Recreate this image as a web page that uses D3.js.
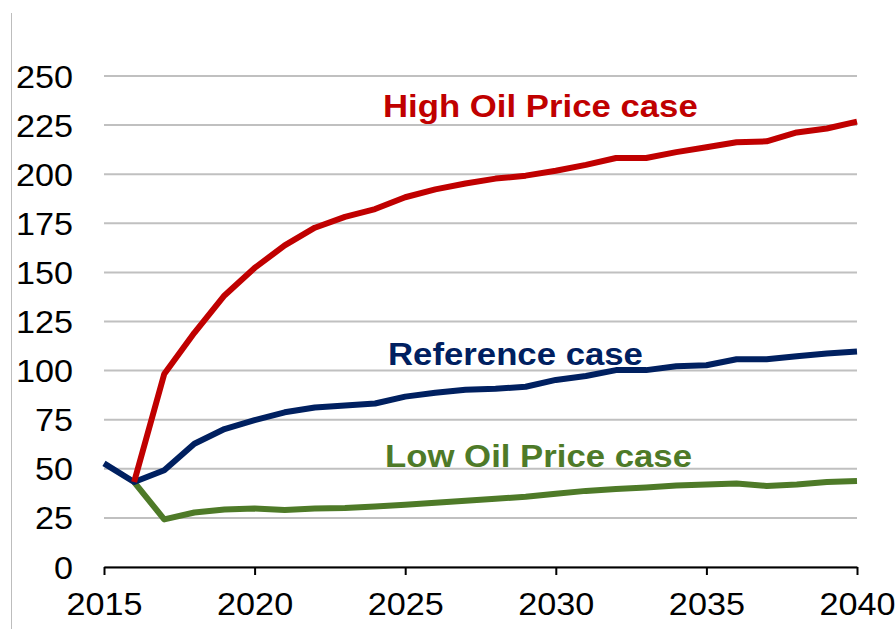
<!DOCTYPE html>
<html>
<head>
<meta charset="utf-8">
<script src="https://cdn.jsdelivr.net/npm/d3@7"></script>
<style>
  html, body { margin: 0; padding: 0; background: #fff; }
  svg { display: block; }
</style>
</head>
<body>
<svg id="chart" width="896" height="629"></svg>
<script>
// Oil price projections, 2015-2040
const years = d3.range(2015, 2041);

const highOil = [null, 43, 98, 119, 138, 152, 163.5, 172.5, 178, 182, 188, 192, 195, 197.5, 199, 201.5, 204.5, 208, 208, 211, 213.5, 216, 216.5, 221, 223, 226.5];
const reference = [52.5, 43, 49, 62.5, 70, 74.5, 78.5, 81, 82, 83, 86.5, 88.5, 90, 90.5, 91.5, 95, 97, 100, 100, 102, 102.5, 105.5, 105.5, 107, 108.5, 109.5];
const lowOil = [null, 43, 24, 27.5, 29, 29.5, 28.8, 29.5, 29.8, 30.5, 31.5, 32.5, 33.5, 34.5, 35.5, 37, 38.5, 39.5, 40.2, 41.2, 41.8, 42.3, 41, 41.8, 43, 43.5];

const yTicks = [0, 25, 50, 75, 100, 125, 150, 175, 200, 225, 250];
const xTicks = [2015, 2020, 2025, 2030, 2035, 2040];

const seriesLabels = ["High Oil Price case", "Reference case", "Low Oil Price case"];

const svg = d3.select("#chart");
const font = "'Liberation Sans', Arial, sans-serif";
const stretch = 1.086;

const x0 = 104, x1 = 857, yTop = 75.5, yBottom = 566.5;
const x = d3.scaleLinear().domain([2015, 2040]).range([x0, x1]);
const y = d3.scaleLinear().domain([0, 250]).range([yBottom, yTop]);

// thin frame line on the left edge
svg.append("line")
  .attr("x1", 11.5).attr("x2", 11.5)
  .attr("y1", 13).attr("y2", 629)
  .attr("stroke", "#BDBDBD").attr("stroke-width", 1);

// y axis: gridlines + labels
svg.append("g")
  .attr("transform", `translate(${x0},0)`)
  .call(d3.axisLeft(y).tickValues(yTicks).tickSize(-(x1 - x0)).tickPadding(31).tickFormat(d3.format("d")))
  .call(g => {
    g.attr("font-size", 31.5).attr("font-family", font);
    g.select(".domain").remove();
    g.selectAll(".tick line").attr("stroke", "#C0C0C0").attr("stroke-width", 2);
    g.selectAll(".tick text")
      .attr("x", null).attr("dy", null)
      .attr("fill", "#000")
      .attr("text-anchor", "end")
      .attr("transform", `translate(-31,11.5) scale(${stretch},1)`);
  });

// x axis
svg.append("g")
  .attr("transform", `translate(0,${yBottom + 0.5})`)
  .call(d3.axisBottom(x).tickValues(xTicks).tickSize(8).tickSizeOuter(0).tickFormat(d3.format("d")))
  .call(g => {
    g.attr("font-size", 31.5).attr("font-family", font);
    g.select(".domain").attr("stroke", "#000").attr("stroke-width", 2);
    g.selectAll(".tick line").attr("stroke", "#000").attr("stroke-width", 2);
    g.selectAll(".tick text")
      .attr("y", null).attr("dy", null)
      .attr("fill", "#000")
      .attr("text-anchor", "middle")
      .attr("transform", `translate(0,48) scale(${stretch},1)`);
  });

const line = d3.line()
  .defined(d => d[1] != null)
  .x(d => x(d[0]))
  .y(d => y(d[1]));

const series = [
  { values: lowOil, color: "#4E7A28" },
  { values: reference, color: "#002060" },
  { values: highOil, color: "#C00000" }
];

svg.append("g").selectAll("path")
  .data(series)
  .join("path")
  .attr("d", s => line(years.map((yr, i) => [yr, s.values[i]])))
  .attr("fill", "none")
  .attr("stroke", s => s.color)
  .attr("stroke-width", 6)
  .attr("stroke-linejoin", "round")
  .attr("stroke-linecap", "butt");

// series labels
const labels = [
  { text: seriesLabels[0], color: "#C00000", x: 383, y: 116.5 },
  { text: seriesLabels[1], color: "#002060", x: 388, y: 364.5 },
  { text: seriesLabels[2], color: "#4E7A28", x: 385, y: 467 }
];

svg.append("g").selectAll("text")
  .data(labels)
  .join("text")
  .attr("transform", d => `translate(${d.x},${d.y}) scale(${stretch},1)`)
  .attr("font-family", font)
  .attr("font-size", 32)
  .attr("font-weight", "bold")
  .attr("fill", d => d.color)
  .text(d => d.text);
</script>
</body>
</html>
